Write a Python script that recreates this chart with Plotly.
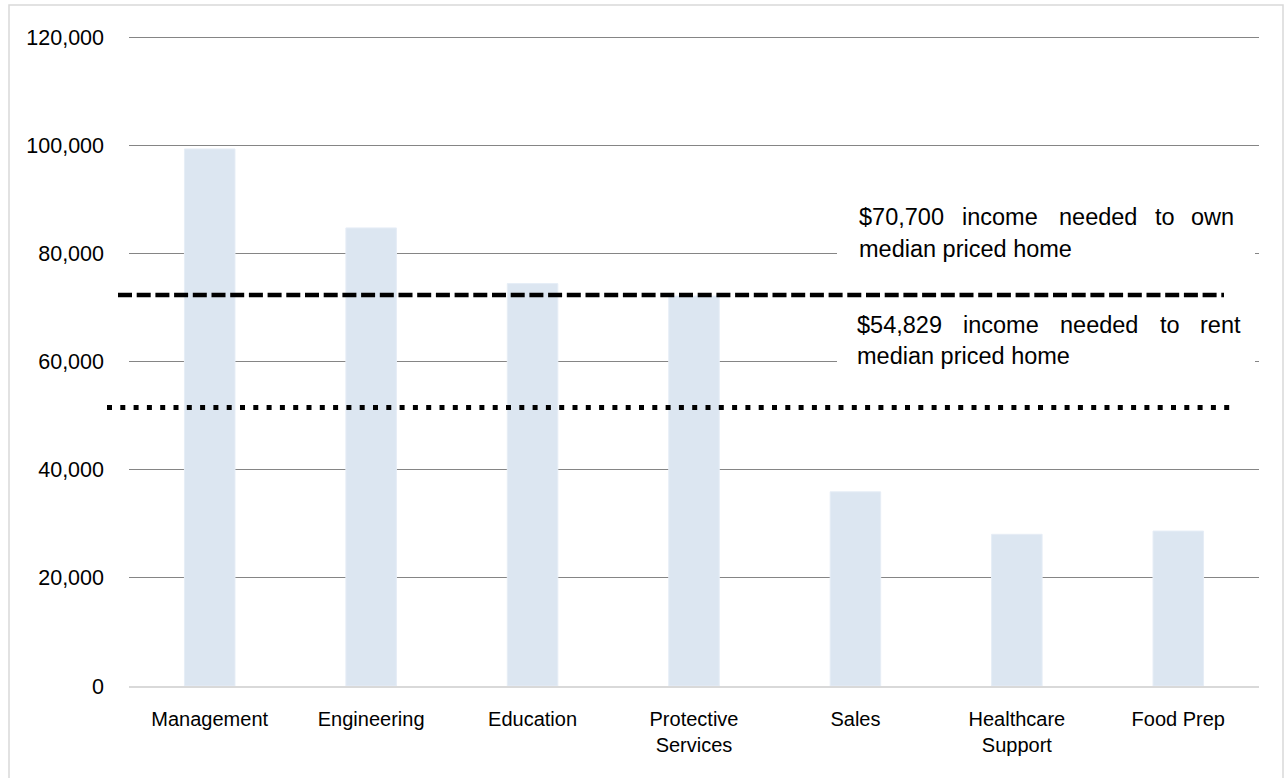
import plotly.graph_objects as go

# ---- data ----
categories = ["Management", "Engineering", "Education", "Protective<br>Services",
              "Sales", "Healthcare<br>Support", "Food Prep"]
median_income = [99300, 84700, 74400, 72100, 35900, 28050, 28650]
own_line_value = 72300
rent_line_value = 51500
y_ticks = [0, 20000, 40000, 60000, 80000, 100000, 120000]
y_max = 120000
own_words = ["$70,700", "income", "needed", "to", "own"]
rent_words = ["$54,829", "income", "needed", "to", "rent"]
line2_text = "median priced home"

FONT = "Liberation Sans, Arial, sans-serif"
FS_X = 20
FS_Y = 21.5
FS_A = 23.5

# plot geometry (px)
W, H = 1286, 778
L, R, T, B = 129, 27, 35, 92
PW, PH = W - L - R, H - T - B
ZERO_PY = H - B          # 686
TOP_PY_120K = 37         # pixel row of the 120,000 gridline
range_top = y_max * (ZERO_PY - T) / (ZERO_PY - TOP_PY_120K)

def px_x(px):
    return (px - L) / PW

def px_y(py):
    return (ZERO_PY - py) / PH

fig = go.Figure()
fig.add_trace(go.Bar(x=categories, y=median_income,
                     marker=dict(color="#DCE6F1", line=dict(color="#E6EDF6", width=1)),
                     showlegend=False, hoverinfo="skip"))

shapes = []
# outer border
shapes.append(dict(type="rect", xref="paper", yref="paper",
                   x0=px_x(9), x1=px_x(1283), y0=px_y(790), y1=px_y(5),
                   line=dict(color="#D9D9D9", width=1.5), fillcolor="rgba(0,0,0,0)", layer="below"))
# white boxes behind text
shapes.append(dict(type="rect", xref="paper", yref="paper",
                   x0=px_x(837), x1=px_x(1255), y0=px_y(272), y1=px_y(200),
                   line=dict(width=0), fillcolor="white", layer="above"))
shapes.append(dict(type="rect", xref="paper", yref="paper",
                   x0=px_x(837), x1=px_x(1255), y0=px_y(382), y1=px_y(308),
                   line=dict(width=0), fillcolor="white", layer="above"))
# threshold lines
shapes.append(dict(type="line", xref="paper", yref="y",
                   x0=px_x(118), x1=px_x(1224), y0=own_line_value, y1=own_line_value,
                   line=dict(color="black", width=4.5, dash="14px,4.7px"), layer="above"))
shapes.append(dict(type="line", xref="paper", yref="y",
                   x0=px_x(107), x1=px_x(1233), y0=rent_line_value, y1=rent_line_value,
                   line=dict(color="black", width=5, dash="5px,8.3px"), layer="above"))

annotations = []

def word_row(words, xs, anchors, py):
    for w, x, a in zip(words, xs, anchors):
        annotations.append(dict(text=w, xref="paper", yref="paper", x=px_x(x), y=px_y(py),
                                xanchor=a, yanchor="middle", showarrow=False,
                                font=dict(family=FONT, size=FS_A, color="black")))

anch = ["left", "center", "center", "center", "right"]
word_row(own_words, [857, 999.5, 1097.5, 1165, 1236], anch, 217)
word_row(rent_words, [855, 1001, 1099, 1170, 1243], anch, 325)
for x, py in [(857, 249), (855, 356)]:
    annotations.append(dict(text=line2_text, xref="paper", yref="paper", x=px_x(x), y=px_y(py),
                            xanchor="left", yanchor="middle", showarrow=False,
                            font=dict(family=FONT, size=FS_A, color="black")))

fig.update_layout(
    width=W, height=H,
    margin=dict(l=L, r=R, t=T, b=B, pad=0),
    paper_bgcolor="white", plot_bgcolor="white",
    bargap=0.687,
    hovermode=False,
    font=dict(family=FONT, size=FS_X, color="black"),
    shapes=shapes, annotations=annotations,
    xaxis=dict(showgrid=False, showline=True, linecolor="#D9D9D9", linewidth=1.5,
               ticks="", ticklabelstandoff=14, tickfont=dict(family=FONT, size=FS_X, color="black")),
    yaxis=dict(range=[0, range_top], tickvals=y_ticks, tickformat=",", showgrid=True,
               gridcolor="#858585", gridwidth=1.4, zeroline=False, showline=False,
               ticks="", ticklabelstandoff=24, tickfont=dict(family=FONT, size=FS_Y, color="black")),
)

fig.write_html("out.html", config={"displayModeBar": False},
               post_script="document.body.style.margin='0';")
